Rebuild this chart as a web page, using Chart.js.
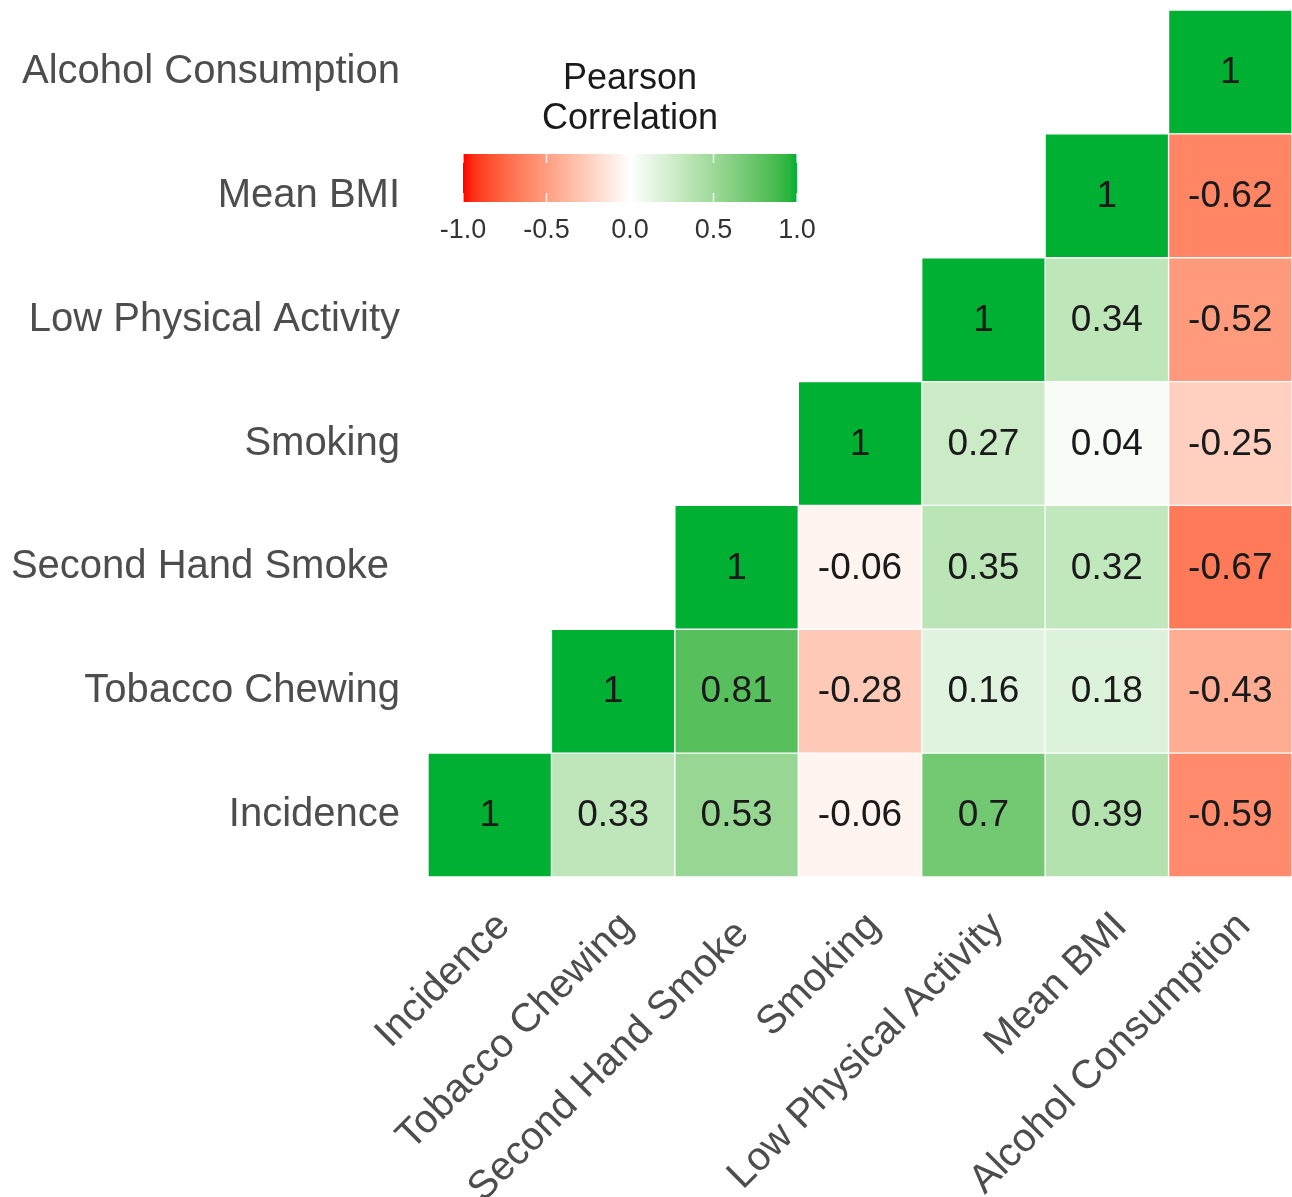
<!DOCTYPE html>
<html>
<head>
<meta charset="utf-8">
<script src="https://cdn.jsdelivr.net/npm/chart.js@4.4.1/dist/chart.umd.min.js"></script>
<style>
  html, body { margin: 0; padding: 0; background: #ffffff; }
  #wrap { width: 1292px; height: 1197px; }
</style>
</head>
<body>
<div id="wrap"><canvas id="corrChart" width="1292" height="1197"></canvas></div>
<script>
// Variables, bottom row / left column first
const variables = ['Incidence', 'Tobacco Chewing', 'Second Hand Smoke ', 'Smoking',
                   'Low Physical Activity', 'Mean BMI', 'Alcohol Consumption'];

// Correlation rows (null = hidden lower half)
const incidence      = [1, 0.33, 0.53, -0.06, 0.7, 0.39, -0.59];
const tobaccoChewing = [null, 1, 0.81, -0.28, 0.16, 0.18, -0.43];
const secondHand     = [null, null, 1, -0.06, 0.35, 0.32, -0.67];
const smoking        = [null, null, null, 1, 0.27, 0.04, -0.25];
const lowActivity    = [null, null, null, null, 1, 0.34, -0.52];
const meanBmi        = [null, null, null, null, null, 1, -0.62];
const alcohol        = [null, null, null, null, null, null, 1];

const corrRows = [incidence, tobaccoChewing, secondHand, smoking, lowActivity, meanBmi, alcohol];
const legendTicks = [-1, -0.5, 0, 0.5, 1];

// Diverging scale, interpolated in Lab like ggplot's gradient2
const lowColor = [255, 0, 0];
const midColor = [255, 255, 255];
const highColor = [0, 176, 51];

function toLinear(c) {
    c /= 255;
    return c <= 0.04045 ? c / 12.92 : Math.pow((c + 0.055) / 1.055, 2.4);
}
function fromLinear(c) {
    const v = c <= 0.0031308 ? c * 12.92 : 1.055 * Math.pow(c, 1 / 2.4) - 0.055;
    return Math.max(0, Math.min(255, Math.round(v * 255)));
}
function rgbToLab(rgb) {
    const r = toLinear(rgb[0]), g = toLinear(rgb[1]), b = toLinear(rgb[2]);
    let x = (r * 0.4124 + g * 0.3576 + b * 0.1805) / 0.95047;
    let y = (r * 0.2126 + g * 0.7152 + b * 0.0722);
    let z = (r * 0.0193 + g * 0.1192 + b * 0.9505) / 1.08883;
    const f = t => t > 0.008856 ? Math.cbrt(t) : 7.787 * t + 16 / 116;
    x = f(x); y = f(y); z = f(z);
    return [116 * y - 16, 500 * (x - y), 200 * (y - z)];
}
function labToRgb(lab) {
    const fy = (lab[0] + 16) / 116;
    const fx = fy + lab[1] / 500;
    const fz = fy - lab[2] / 200;
    const inv = t => t * t * t > 0.008856 ? t * t * t : (t - 16 / 116) / 7.787;
    const x = inv(fx) * 0.95047, y = inv(fy), z = inv(fz) * 1.08883;
    const r = x * 3.2406 + y * -1.5372 + z * -0.4986;
    const g = x * -0.9689 + y * 1.8758 + z * 0.0415;
    const b = x * 0.0557 + y * -0.2040 + z * 1.0570;
    return [fromLinear(r), fromLinear(g), fromLinear(b)];
}
const labLow = rgbToLab(lowColor), labMid = rgbToLab(midColor), labHigh = rgbToLab(highColor);

function colorFor(v) {
    const end = v < 0 ? labLow : labHigh;
    const t = Math.min(1, Math.abs(v));
    const lab = [0, 1, 2].map(k => labMid[k] + (end[k] - labMid[k]) * t);
    const rgb = labToRgb(lab);
    return 'rgb(' + rgb.join(',') + ')';
}

// One floating-bar dataset per row
const datasets = corrRows.map((row, i) => ({
    label: variables[i],
    data: row.map(v => v === null ? null : [i, i + 1]),
    values: row,
    backgroundColor: row.map(v => v === null ? 'rgba(0,0,0,0)' : colorFor(v)),
    borderColor: 'rgba(255,255,255,0.85)',
    borderWidth: 1,
    borderSkipped: false,
    barPercentage: 1,
    categoryPercentage: 1,
    grouped: false
}));

// Numbers inside the cells
const cellLabels = {
    id: 'cellLabels',
    afterDatasetsDraw(chart) {
        const ctx = chart.ctx;
        ctx.save();
        ctx.font = '37px "Liberation Sans", Arial, sans-serif';
        ctx.fillStyle = '#1a1a1a';
        ctx.textAlign = 'center';
        ctx.textBaseline = 'middle';
        chart.data.datasets.forEach((ds, i) => {
            const meta = chart.getDatasetMeta(i);
            meta.data.forEach((bar, j) => {
                const v = ds.values[j];
                if (v === null) return;
                ctx.fillText(String(v), bar.x, (bar.y + bar.base) / 2 + 1);
            });
        });
        ctx.restore();
    }
};

// Colour bar legend
const colorBar = {
    id: 'colorBar',
    afterDraw(chart) {
        const ctx = chart.ctx;
        const x0 = 463, x1 = 797, y0 = 154, y1 = 202;
        ctx.save();
        ctx.fillStyle = '#1a1a1a';
        ctx.font = '36px "Liberation Sans", Arial, sans-serif';
        ctx.textAlign = 'center';
        ctx.textBaseline = 'middle';
        ctx.fillText('Pearson', 630, 79);
        ctx.fillText('Correlation', 630, 119);

        const grad = ctx.createLinearGradient(x0, 0, x1, 0);
        for (let k = 0; k <= 40; k++) {
            grad.addColorStop(k / 40, colorFor(-1 + 2 * k / 40));
        }
        ctx.fillStyle = grad;
        ctx.fillRect(x0, y0, x1 - x0, y1 - y0);

        ctx.strokeStyle = 'rgba(255,255,255,0.8)';
        ctx.lineWidth = 1.5;
        ctx.font = '27px "Liberation Sans", Arial, sans-serif';
        ctx.fillStyle = '#333333';
        legendTicks.forEach(t => {
            const px = x0 + (t + 1) / 2 * (x1 - x0);
            ctx.beginPath();
            ctx.moveTo(px, y0); ctx.lineTo(px, y0 + 9);
            ctx.moveTo(px, y1 - 9); ctx.lineTo(px, y1);
            ctx.stroke();
            ctx.fillText(t.toFixed(1), px, 231);
        });
        ctx.restore();
    }
};

const labelFont = { family: '"Liberation Sans", Arial, sans-serif', size: 40 };

new Chart(document.getElementById('corrChart'), {
    type: 'bar',
    data: { labels: variables, datasets: datasets },
    options: {
        responsive: false,
        animation: false,
        layout: { padding: { top: 10, right: 0, left: 0, bottom: 0 } },
        plugins: {
            legend: { display: false },
            tooltip: { enabled: false }
        },
        scales: {
            x: {
                type: 'category',
                grid: { display: false, drawTicks: false },
                border: { display: false },
                ticks: {
                    autoSkip: false,
                    minRotation: 45,
                    maxRotation: 45,
                    padding: 26,
                    labelOffset: 14,
                    color: '#4d4d4d',
                    font: labelFont
                },
                afterFit(scale) {
                    scale.height = 320;
                    scale.paddingLeft = 0;
                    scale.paddingRight = 0;
                }
            },
            y: {
                type: 'linear',
                min: 0,
                max: 7,
                grid: { display: false, drawTicks: false },
                border: { display: false },
                afterBuildTicks(scale) {
                    scale.ticks = variables.map((v, i) => ({ value: i + 0.5 }));
                },
                ticks: {
                    padding: 28,
                    color: '#4d4d4d',
                    font: labelFont,
                    callback: (value, index) => variables[index]
                },
                afterFit(scale) {
                    scale.width = 428;
                    scale.paddingTop = 0;
                    scale.paddingBottom = 0;
                }
            }
        }
    },
    plugins: [cellLabels, colorBar]
});
</script>
</body>
</html>
